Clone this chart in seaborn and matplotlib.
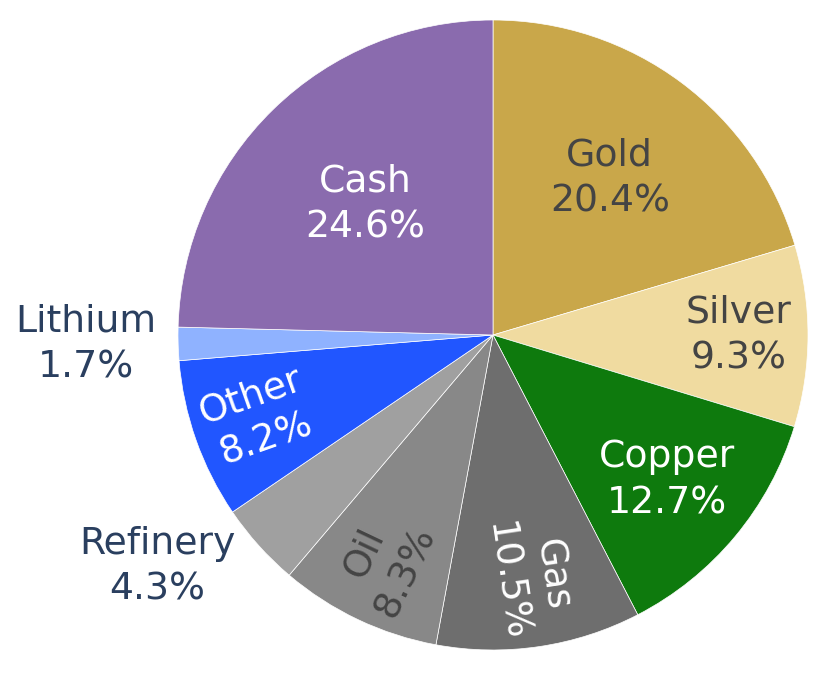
import numpy as np
import matplotlib
matplotlib.use("Agg")
import matplotlib.pyplot as plt
import seaborn as sns

# ==========================================
# DATA
# ==========================================

labels = ["Gold", "Silver", "Copper", "Gas", "Oil",
          "Refinery", "Other", "Lithium", "Cash"]

shares = [20.4, 9.3, 12.7, 10.5, 8.3, 4.3, 8.2, 1.7, 24.6]

slice_colors = ["#C9A74A", "#F0DBA0", "#0E7A0D", "#6E6E6E", "#888888",
                "#A0A0A0", "#2156FF", "#8FB2FF", "#8A6BAE"]

# ==========================================
# LABEL STYLE (placement per slice)
# ==========================================

text_colors = ["#444444", "#444444", "white", "white", "#444444",
               "#2a3f5f", "#ffffff", "#2a3f5f", "white"]

label_radius = [0.62, 0.78, 0.72, 0.78, 0.8, 1.1, 0.79, 1.07, 0.58]

orientation = ["h", "h", "h", "radial", "radial",
               "outside", "radial", "outside", "h"]

sns.set_theme(style="white")
plt.rcParams["font.family"] = ["DejaVu Sans"]

fig = plt.figure(figsize=(8.4, 6.87), dpi=100)

cx, cy, R = 493, 335, 315
ax = fig.add_axes([
    (cx - R) / 840,
    (687 - cy - R) / 687,
    2 * R / 840,
    2 * R / 687
])

wedges, _ = ax.pie(
    shares,
    colors=slice_colors,
    startangle=90,
    counterclock=False,
    radius=1.0,
    wedgeprops=dict(edgecolor="white", linewidth=0.5)
)

ax.set_xlim(-1, 1)
ax.set_ylim(-1, 1)
ax.set_aspect("auto")
ax.axis("off")

FS = 27.2
LS = 1.35

for wedge, name, value, col, r, mode in zip(
        wedges, labels, shares, text_colors, label_radius, orientation):

    mid = np.deg2rad((wedge.theta1 + wedge.theta2) / 2)
    x = r * np.cos(mid)
    y = r * np.sin(mid)
    txt = f"{name}\n{value}%"

    if mode == "outside":
        ax.text(x, y, txt, ha="right", va="center", multialignment="center",
                color=col, fontsize=FS, linespacing=LS)
        continue

    rot = 0.0
    if mode == "radial":
        rot = np.rad2deg(mid)
        while rot > 90:
            rot -= 180
        while rot < -90:
            rot += 180

    ax.text(x, y, txt, ha="center", va="center", multialignment="center",
            color=col, fontsize=FS, rotation=rot, rotation_mode="anchor",
            linespacing=LS)

fig.savefig("out.png", dpi=100, facecolor="white")
